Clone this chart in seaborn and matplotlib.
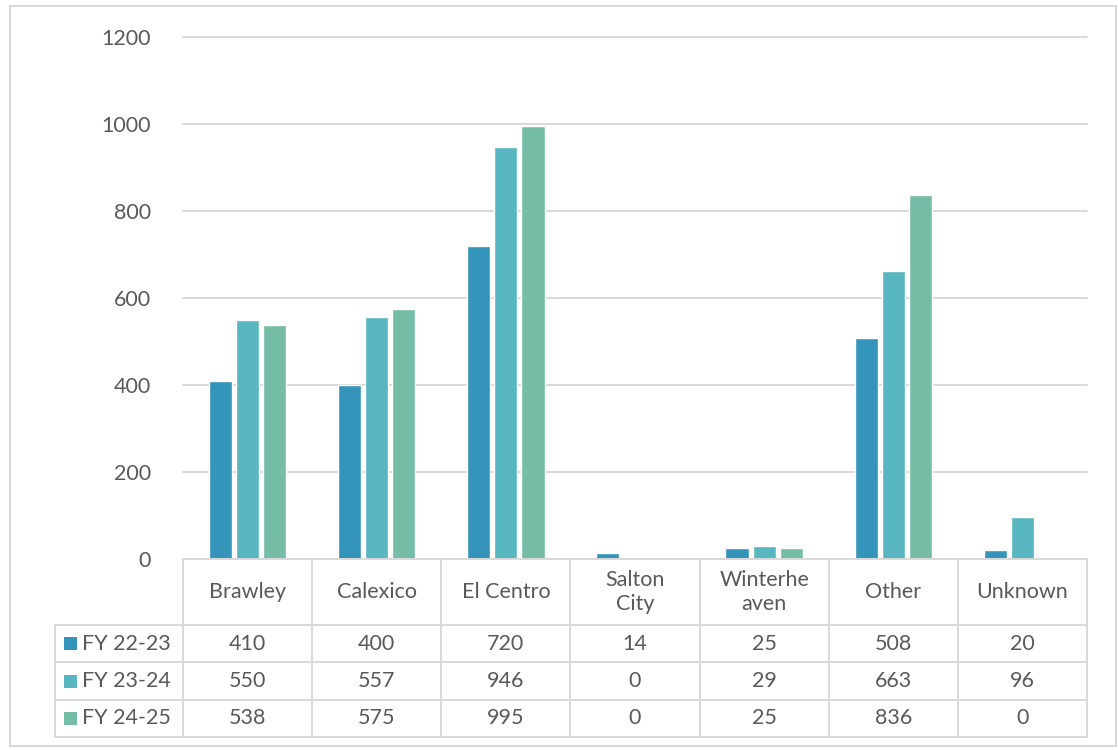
import matplotlib
matplotlib.use("Agg")
import matplotlib.pyplot as plt
import matplotlib.transforms as mtransforms
from matplotlib.lines import Line2D
from matplotlib.patches import Rectangle
import pandas as pd
import seaborn as sns

# ---- data ----
categories = ["Brawley", "Calexico", "El Centro", "Salton City", "Winterheaven", "Other", "Unknown"]
header_labels = ["Brawley", "Calexico", "El Centro", "Salton\nCity", "Winterhe\naven", "Other", "Unknown"]
series_names = ["FY 22-23", "FY 23-24", "FY 24-25"]
fy_22_23 = [410, 400, 720, 14, 25, 508, 20]
fy_23_24 = [550, 557, 946, 0, 29, 663, 96]
fy_24_25 = [538, 575, 995, 0, 25, 836, 0]
y_ticks = [0, 200, 400, 600, 800, 1000, 1200]

colors = ["#3494BA", "#58B6C0", "#75BDA7"]
text_color = "#595959"
line_color = "#D9D9D9"
FS = 15.5
FW = "normal"

sns.set_theme(style="white")
plt.rcParams["font.family"] = ["Lato", "DejaVu Sans"]
plt.rcParams["font.weight"] = FW

series_values = [fy_22_23, fy_23_24, fy_24_25]
df = pd.DataFrame({
    "Location": categories * 3,
    "Series": [s for s in series_names for _ in categories],
    "Count": fy_22_23 + fy_23_24 + fy_24_25,
})

W, H = 1118, 750
fig = plt.figure(figsize=(W / 100, H / 100), dpi=100)
fig.patch.set_facecolor("white")

# plot area in pixels
left_px, right_px, top_px, bottom_px = 183, 1087, 37, 559
ax = fig.add_axes([left_px / W, 1 - bottom_px / H,
                   (right_px - left_px) / W, (bottom_px - top_px) / H])

sns.barplot(data=df, x="Location", y="Count", hue="Series", order=categories,
            hue_order=series_names, palette=colors, width=0.63, gap=0.15,
            legend=False, ax=ax, saturation=1)

ax.set_xlim(-0.5, len(categories) - 0.5)
ax.set_ylim(0, 1200)
ax.set_yticks(y_ticks)
ax.set_yticklabels([str(t) for t in y_ticks], fontsize=FS, color=text_color, fontweight=FW)
ax.tick_params(axis="y", length=0, pad=23)
ax.set_xticks([])
ax.set_xlabel("")
ax.set_ylabel("")
ax.grid(axis="y", color=line_color, linewidth=1.4)
for gl in ax.get_ygridlines():
    gl.set_clip_on(False)
ax.set_axisbelow(True)
for side in ["top", "right", "left"]:
    ax.spines[side].set_visible(False)
ax.spines["bottom"].set_color(line_color)
ax.spines["bottom"].set_linewidth(1.4)

# ---- data table below the plot area ----
def fy(px):
    return 1 - px / H

trans = mtransforms.blended_transform_factory(ax.transData, fig.transFigure)
row_edges = [559, 625, 662, 700, 737]
legend_left_px = 55
n = len(categories)

# vertical lines at category boundaries
for k in range(n + 1):
    fig.add_artist(Line2D([k - 0.5, k - 0.5], [fy(row_edges[0]), fy(row_edges[-1])],
                          transform=trans, color=line_color, lw=1.4))
# horizontal lines across the value rows
for i, yp in enumerate(row_edges):
    x0 = legend_left_px / W if i >= 1 else left_px / W
    fig.add_artist(Line2D([x0, right_px / W], [fy(yp), fy(yp)],
                          transform=fig.transFigure, color=line_color, lw=1.4))
fig.add_artist(Line2D([legend_left_px / W, legend_left_px / W],
                      [fy(row_edges[1]), fy(row_edges[-1])],
                      transform=fig.transFigure, color=line_color, lw=1.4))

# column headers
hy = fy((row_edges[0] + row_edges[1]) / 2)
for k, lab in enumerate(header_labels):
    fig.text(k, hy, lab, transform=trans, ha="center", va="center",
             fontsize=FS, color=text_color, linespacing=1.3, fontweight=FW)

# value rows with legend keys
for r, (name, vals, col) in enumerate(zip(series_names, series_values, colors)):
    yc = fy((row_edges[r + 1] + row_edges[r + 2]) / 2)
    fig.add_artist(Rectangle((64 / W, yc - 6.5 / H), 13 / W, 13 / H,
                             transform=fig.transFigure, facecolor=col, edgecolor="none"))
    fig.text(82 / W, yc, name, ha="left", va="center", fontsize=FS,
             color=text_color, fontweight=FW)
    for k, v in enumerate(vals):
        fig.text(k, yc, str(v), transform=trans, ha="center", va="center",
                 fontsize=FS, color=text_color, fontweight=FW)

# chart frame
fig.add_artist(Rectangle((10 / W, 1 - 746 / H), 1106 / W, 740 / H,
                         transform=fig.transFigure, facecolor="none",
                         edgecolor=line_color, lw=1.5))

fig.savefig("out.png", dpi=100)
